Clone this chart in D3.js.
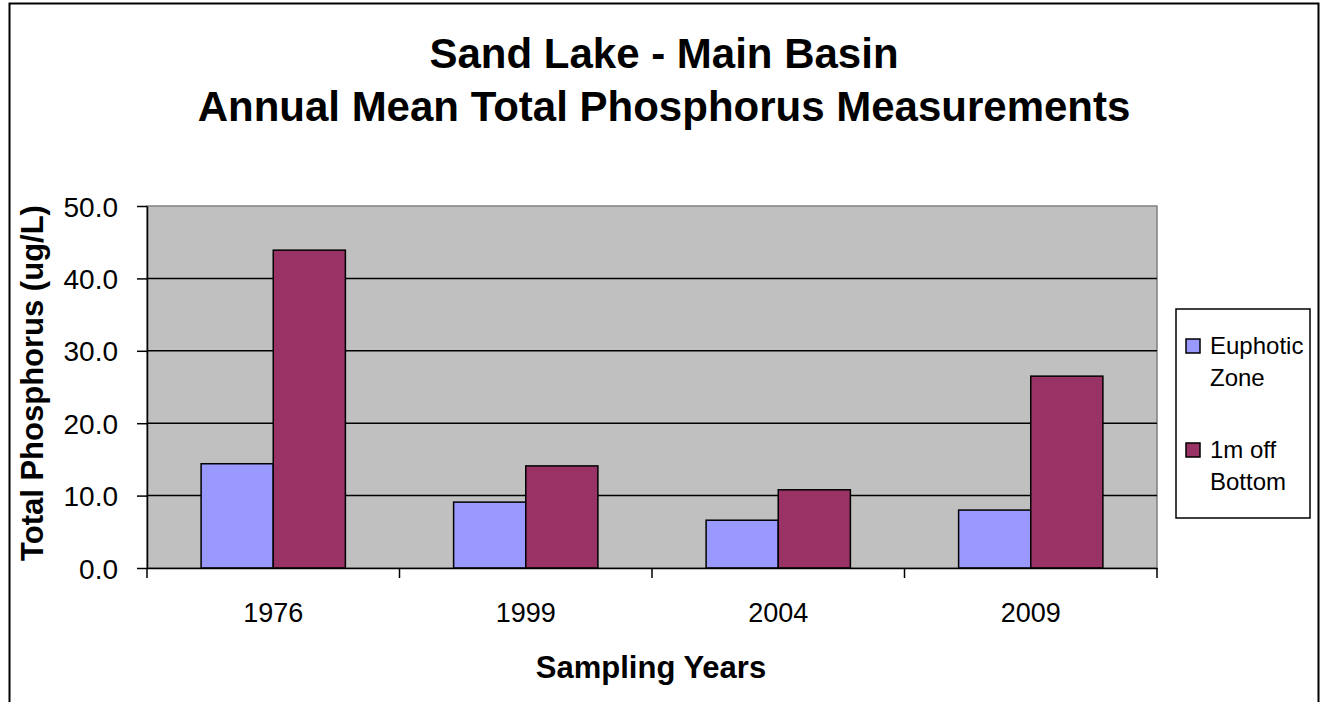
<!DOCTYPE html>
<html>
<head>
<meta charset="utf-8">
<script src="https://cdn.jsdelivr.net/npm/d3@7"></script>
<style>
  body { margin: 0; background: #fff; }
  svg { display: block; font-family: "Liberation Sans", Arial, sans-serif; }
</style>
</head>
<body>
<svg id="chart" width="1324" height="702"></svg>
<script>
// data
const years = ["1976", "1999", "2004", "2009"];
const seriesNames = ["Euphotic Zone", "1m off Bottom"];
const euphotic = [14.4, 9.1, 6.6, 8.0];
const offBottom = [43.9, 14.1, 10.8, 26.5];
const yTicks = [0, 10, 20, 30, 40, 50];
const colors = ["#9999FF", "#993366"];

const svg = d3.select("#chart");
const margin = { top: 206, right: 167, bottom: 134, left: 147 },
      width = 1324 - margin.left - margin.right,
      height = 702 - margin.top - margin.bottom;

// outer chart frame
svg.append("rect")
  .attr("x", 9.5).attr("y", 3.5)
  .attr("width", 1309).attr("height", 720)
  .attr("fill", "none").attr("stroke", "#000").attr("stroke-width", 2);

// title
const title = svg.append("text")
  .attr("text-anchor", "middle")
  .style("font-size", "42px").style("font-weight", "bold");
title.append("tspan").attr("x", 664).attr("y", 68).text("Sand Lake - Main Basin");
title.append("tspan").attr("x", 664).attr("y", 121).text("Annual Mean Total Phosphorus Measurements");

const g = svg.append("g").attr("transform", `translate(${margin.left},${margin.top})`);

const x = d3.scaleBand().domain(years).range([0, width]);
const y = d3.scaleLinear().domain([0, 50]).range([height, 0]);

// plot area
g.append("rect")
  .attr("width", width).attr("height", height)
  .attr("fill", "#C0C0C0").attr("stroke", "#808080").attr("stroke-width", 1.5);

// gridlines
g.selectAll(".grid")
  .data(yTicks.slice(1, -1))
  .enter()
  .append("line")
  .attr("x1", 0).attr("x2", width)
  .attr("y1", d => y(d)).attr("y2", d => y(d))
  .attr("stroke", "#000").attr("stroke-width", 1.5);

// bars: gap width 75% of bar width
const band = x.bandwidth();
const bw = band / 3.5;
const gap = bw * 0.75;
const data = years.map((yr, i) => ({ year: yr, values: [euphotic[i], offBottom[i]] }));

g.selectAll(".grp")
  .data(data)
  .enter()
  .append("g")
  .attr("transform", d => `translate(${x(d.year) + gap},0)`)
  .selectAll("rect")
  .data(d => d.values)
  .enter()
  .append("rect")
  .attr("x", (d, i) => i * bw)
  .attr("y", d => y(d))
  .attr("width", bw)
  .attr("height", d => height - y(d))
  .attr("fill", (d, i) => colors[i])
  .attr("stroke", "#000").attr("stroke-width", 1.5);

// axes
const yAxis = g.append("g")
  .call(d3.axisLeft(y).tickValues(yTicks).tickFormat(d3.format(".1f")).tickSize(10).tickSizeOuter(0));
yAxis.select(".domain").attr("stroke-width", 1.5);
yAxis.selectAll(".tick line").attr("stroke-width", 1.5);
yAxis.selectAll("text").style("font-size", "28px").attr("x", -29).attr("dy", "0.36em").attr("fill", "#000");

const xAxis = g.append("g")
  .attr("transform", `translate(0,${height})`)
  .call(d3.axisBottom(x).tickSize(0).tickSizeOuter(0));
xAxis.select(".domain").attr("stroke-width", 1.5);
xAxis.selectAll("text").style("font-size", "27px").attr("y", 54).attr("dy", 0).attr("fill", "#000");

// category boundary ticks
g.selectAll(".xtick")
  .data(years.concat(["end"]))
  .enter()
  .append("line")
  .attr("x1", (d, i) => i < years.length ? x(d) : width)
  .attr("x2", (d, i) => i < years.length ? x(d) : width)
  .attr("y1", height).attr("y2", height + 10)
  .attr("stroke", "#000").attr("stroke-width", 1.5);

// axis titles
svg.append("text")
  .attr("x", 651).attr("y", 678)
  .attr("text-anchor", "middle")
  .style("font-size", "31px").style("font-weight", "bold")
  .text("Sampling Years");

svg.append("text")
  .attr("transform", `translate(43,383) rotate(-90)`)
  .attr("text-anchor", "middle")
  .style("font-size", "31px").style("font-weight", "bold")
  .text("Total Phosphorus (ug/L)");

// legend
const lg = svg.append("g").attr("transform", "translate(1176,309)");
lg.append("rect")
  .attr("width", 134).attr("height", 209)
  .attr("fill", "#fff").attr("stroke", "#000").attr("stroke-width", 1.5);
const legendLines = [["Euphotic", "Zone"], ["1m off", "Bottom"]];
legendLines.forEach((lines, i) => {
  const base = 45 + i * 104;
  lg.append("rect")
    .attr("x", 10).attr("y", base - 15)
    .attr("width", 14).attr("height", 14)
    .attr("fill", colors[i]).attr("stroke", "#000").attr("stroke-width", 1.5);
  lines.forEach((t, j) => {
    lg.append("text")
      .attr("x", 34).attr("y", base + j * 32)
      .style("font-size", "24px")
      .text(t);
  });
});
</script>
</body>
</html>
